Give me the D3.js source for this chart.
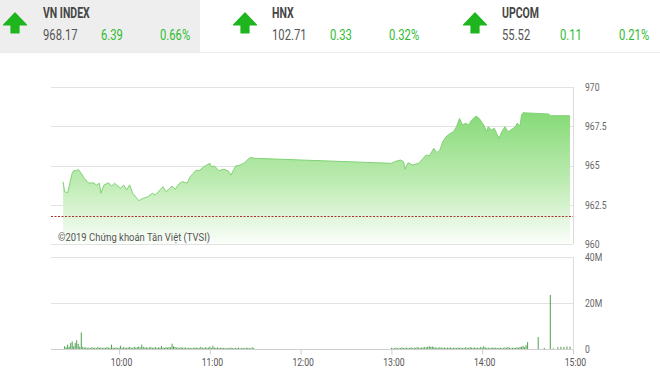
<!DOCTYPE html>
<html>
<head>
<meta charset="utf-8">
<script src="https://cdn.jsdelivr.net/npm/d3@7"></script>
<style>
  body { margin: 0; background: #fff; }
  svg { display: block; font-family: Roboto, "Open Sans", sans-serif; }
</style>
</head>
<body>
<div id="chart"></div>
<script>
// Index summary boxes
const indexNames = ["VN INDEX", "HNX", "UPCOM"];
const indexValues = ["968.17", "102.71", "55.52"];
const indexChanges = ["6.39", "0.33", "0.11"];
const indexPercents = ["0.66%", "0.32%", "0.21%"];

// Intraday VN-Index (time, value)
const priceTimes = [
  "9:23", "9:24", "9:26", "9:29", "9:30", "9:32", "9:33", "9:35", "9:37", "9:40",
  "9:43", "9:45", "9:47", "9:48", "9:50", "9:53", "9:55", "9:57", "10:01", "10:03",
  "10:05", "10:07", "10:09", "10:13", "10:16", "10:19", "10:22", "10:24", "10:27", "10:29",
  "10:31", "10:35", "10:37", "10:40", "10:42", "10:45", "10:47", "10:49", "10:51", "10:53",
  "10:56", "10:58", "11:00", "11:01", "11:03", "11:06", "11:09", "11:12", "11:14", "11:17",
  "11:20", "11:23", "11:25", "11:27", "11:29",
  "13:00", "13:02", "13:06", "13:08", "13:09", "13:11", "13:14", "13:18", "13:21", "13:23",
  "13:25", "13:28", "13:30", "13:32", "13:34", "13:36", "13:39", "13:41", "13:43", "13:45",
  "13:47", "13:49", "13:51", "13:53", "13:56", "13:58", "14:01", "14:03", "14:04", "14:06",
  "14:08", "14:11", "14:13", "14:15", "14:17", "14:19", "14:22", "14:23", "14:25", "14:26",
  "14:27", "14:44", "14:45", "14:58"
];
const priceValues = [
  963.97, 963.33, 963.27, 964.50, 964.67, 964.67, 964.76, 964.50, 964.18, 963.87,
  963.90, 963.76, 963.87, 963.23, 963.76, 963.90, 963.69, 963.87, 963.55, 963.76,
  963.44, 963.76, 963.23, 962.76, 962.91, 963.01, 963.23, 963.12, 963.44, 963.65,
  963.33, 963.69, 963.48, 963.87, 963.97, 963.87, 964.29, 964.50, 964.71, 964.67,
  964.92, 965.03, 965.14, 964.92, 964.97, 964.67, 964.76, 964.67, 964.39, 964.97,
  965.03, 965.18, 965.39, 965.52, 965.46,
  965.14, 965.24, 965.35, 965.24, 964.76, 965.18, 965.03, 965.14, 965.46, 965.67,
  965.61, 966.10, 965.82, 965.99, 966.52, 966.83, 967.05, 967.15, 967.47, 968.00,
  967.58, 967.69, 967.58, 967.90, 968.15, 968.00, 967.58, 967.15, 967.47, 967.26,
  967.37, 966.73, 967.15, 967.47, 967.15, 967.26, 967.47, 967.69, 967.52, 968.22,
  968.36, 968.28, 968.17, 968.17
];
const referencePrice = 961.78;
const priceTicks = [960, 962.5, 965, 967.5, 970];

// Volume per minute (millions of shares)
const volMorningStart = "9:24";
const volMorning = [
  1.2, 0.8, 1.9, 1.0, 2.6, 3.3, 1.2, 2.6, 3.8, 2.2, 1.0, 7.2, 0.9, 0.6, 0.7, 0.5,
  0.6, 0.4, 0.8, 0.5, 0.6, 0.4, 0.9, 0.5, 0.7, 0.4, 0.6, 0.5, 0.8, 0.6, 0.5, 1.9,
  0.6, 0.5, 0.7, 0.4, 0.6, 1.4, 0.5, 0.8, 0.6, 0.5, 0.7, 0.9, 0.6, 0.5, 1.0, 0.6,
  0.8, 1.1, 0.7, 1.9, 0.9, 0.6, 0.8, 0.5, 0.7, 0.9, 0.5, 0.6, 0.8, 0.5, 0.7, 0.6,
  1.3, 0.6, 0.5, 0.8, 0.6, 0.9, 0.7, 2.3, 1.2, 0.9, 0.6, 0.7, 0.5, 0.8, 0.6, 0.5,
  0.7, 0.4, 0.6, 0.5, 0.4, 0.6, 0.5, 0.7, 0.4, 0.5, 0.9, 0.6, 0.4, 0.8, 0.5, 0.6,
  1.0, 0.5, 1.4, 0.6, 0.5, 0.7, 0.4, 0.5, 0.6, 0.4, 0.5, 0.3, 0.5, 0.4, 0.6, 0.4,
  0.3, 0.5, 0.4, 0.6, 0.3, 0.4, 0.5, 0.3, 0.6, 0.4, 0.5, 0.3, 0.7, 0.4
];
const volAfternoonStart = "13:00";
const volAfternoon = [
  0.5, 0.3, 0.4, 0.6, 0.3, 0.5, 0.4, 0.7, 0.4, 0.5, 0.6, 0.4, 0.5, 0.7, 0.4, 0.6,
  0.5, 0.8, 0.6, 0.5, 0.7, 0.6, 0.9, 0.7, 1.0, 1.2, 0.9, 1.1, 0.8, 0.7, 0.6, 0.5,
  0.8, 0.6, 0.5, 0.7, 0.4, 0.6, 0.5, 0.7, 0.4, 0.5, 0.6, 0.4, 0.7, 0.5, 0.6, 0.4,
  0.5, 0.7, 0.6, 0.5, 0.8, 0.6, 0.5, 0.7, 0.5, 0.6, 0.4, 0.9, 0.6, 1.2, 0.7, 0.5,
  0.6, 0.4, 0.5, 0.7, 0.5, 0.6, 0.4, 0.5, 0.6, 0.4, 0.5, 0.7, 0.5, 0.9, 0.6, 0.4,
  0.5, 0.6, 0.5, 0.7, 0.6, 0.9, 1.0, 1.3, 0.8, 1.6, 3.0
];
const volLateTimes = ["14:37", "14:41", "14:45", "14:47", "14:50", "14:52", "14:54", "14:56", "14:58"];
const volLate = [5.2, 0.5, 23.5, 0.3, 0.8, 1.0, 0.9, 1.1, 1.0];
const volTicks = [0, 20, 40];
const volTickLabels = ["0", "20M", "40M"];
const timeTicks = ["10:00", "11:00", "12:00", "13:00", "14:00", "15:00"];

const toMin = s => { const [h, m] = s.split(":").map(Number); return h * 60 + m; };
const fromMin = m => `${Math.floor(m / 60)}:${String(m % 60).padStart(2, "0")}`;

const svg = d3.select("#chart").append("svg")
  .attr("width", 660)
  .attr("height", 376);

// ---------- Header ----------
const boxX = [0, 228, 458];
svg.append("rect").attr("x", 0).attr("y", 0).attr("width", 200).attr("height", 52).attr("fill", "#eeeeee");
svg.append("line").attr("x1", 0).attr("x2", 660).attr("y1", 52.5).attr("y2", 52.5)
  .attr("stroke", "#ececec");

const green = "#2dbb2d";
indexNames.forEach((name, i) => {
  const g = svg.append("g").attr("transform", `translate(${boxX[i]},0)`);
  const ax = [15, 17, 17][i];
  g.append("path")
    .attr("d", `M${ax},13 L${ax + 11.5},25 L${ax + 4},25 L${ax + 4},33 L${ax - 4},33 L${ax - 4},25 L${ax - 11.5},25 Z`)
    .attr("fill", "#1fb51f").attr("stroke", "#1fb51f").attr("stroke-width", 1.2)
    .attr("stroke-linejoin", "round");
  const tx = [43, 44, 44][i];
  g.append("text").attr("transform", `translate(${tx},18) scale(0.75,1)`)
    .attr("font-size", 14).attr("font-weight", "bold").attr("fill", "#454545").text(name);
  g.append("text").attr("transform", `translate(${tx},40) scale(0.75,1)`)
    .attr("font-size", 15).attr("fill", "#555").text(indexValues[i]);
  g.append("text").attr("transform", `translate(${tx + 58},40) scale(0.75,1)`)
    .attr("font-size", 15).attr("fill", green).text(indexChanges[i]);
  g.append("text").attr("transform", `translate(${tx + 117},40) scale(0.75,1)`)
    .attr("font-size", 15).attr("fill", green).text(indexPercents[i]);
});

// ---------- Scales ----------
const left = 51, right = 573;
const x = d3.scaleLinear().domain([toMin("9:15"), toMin("15:00")]).range([left, right]);
const yPrice = d3.scaleLinear().domain([960, 970]).range([244, 87]);
const yVol = d3.scaleLinear().domain([0, 40]).range([349, 257]);

// ---------- Price panel ----------
svg.selectAll(".pgrid").data(priceTicks).enter().append("line")
  .attr("class", "pgrid")
  .attr("x1", left).attr("x2", right)
  .attr("y1", d => Math.round(yPrice(d)) + 0.5).attr("y2", d => Math.round(yPrice(d)) + 0.5)
  .attr("stroke", "#e2e2e2");
svg.append("line").attr("x1", right + 0.5).attr("x2", right + 0.5)
  .attr("y1", yPrice(970)).attr("y2", yPrice(960)).attr("stroke", "#dcdcdc");

const defs = svg.append("defs");
const grad = defs.append("linearGradient").attr("id", "areaGrad")
  .attr("gradientUnits", "userSpaceOnUse")
  .attr("x1", 0).attr("x2", 0).attr("y1", yPrice(968.4)).attr("y2", yPrice(960));
grad.append("stop").attr("offset", 0).attr("stop-color", "#86da77");
grad.append("stop").attr("offset", 0.55).attr("stop-color", "#c0ecb5");
grad.append("stop").attr("offset", 1).attr("stop-color", "#fbfefa");

const pricePts = priceTimes.map((t, i) => ({ t: toMin(t), v: priceValues[i] }));
svg.append("path").datum(pricePts)
  .attr("fill", "url(#areaGrad)")
  .attr("d", d3.area().x(d => x(d.t)).y0(yPrice(960)).y1(d => yPrice(d.v)));
svg.append("path").datum(pricePts)
  .attr("fill", "none").attr("stroke", "#80d276").attr("stroke-width", 1)
  .attr("d", d3.line().x(d => x(d.t)).y(d => yPrice(d.v)));

svg.append("line")
  .attr("x1", left).attr("x2", right)
  .attr("y1", Math.round(yPrice(referencePrice)) + 0.5).attr("y2", Math.round(yPrice(referencePrice)) + 0.5)
  .attr("stroke", "#b0302a").attr("stroke-dasharray", "2,1.5");

svg.append("text")
  .attr("font-size", 11).attr("fill", "#555")
  .attr("transform", "translate(58,241) scale(0.86,1)")
  .text("©2019 Chứng khoán Tân Việt (TVSI)");

// narrow axis text like the original's condensed face
function squeeze(sel, dx) {
  sel.attr("font-size", 10.5).attr("font-family", "Roboto, sans-serif")
    .each(function () {
      const t = d3.select(this);
      const ox = +t.attr("x") || 0;
      t.attr("x", null).attr("transform", `translate(${ox + dx},0) scale(0.82,1)`);
    });
}

const pAxis = svg.append("g").attr("transform", `translate(${right},0)`)
  .call(d3.axisRight(yPrice).tickValues(priceTicks).tickSize(0).tickPadding(12).tickFormat(d => d));
pAxis.select(".domain").remove();
pAxis.selectAll("text").attr("fill", "#666").call(squeeze, 0);

// ---------- Volume panel ----------
svg.selectAll(".vgrid").data(volTicks).enter().append("line")
  .attr("class", "vgrid")
  .attr("x1", left).attr("x2", right)
  .attr("y1", d => Math.round(yVol(d)) + 0.5).attr("y2", d => Math.round(yVol(d)) + 0.5)
  .attr("stroke", d => d === 0 ? "#cfcfcf" : "#e2e2e2");
svg.append("line").attr("x1", right + 0.5).attr("x2", right + 0.5)
  .attr("y1", yVol(40)).attr("y2", yVol(0)).attr("stroke", "#dcdcdc");

const volData = []
  .concat(volMorning.map((v, i) => ({ t: toMin(volMorningStart) + i, v })))
  .concat(volAfternoon.map((v, i) => ({ t: toMin(volAfternoonStart) + i, v })))
  .concat(volLateTimes.map((t, i) => ({ t: toMin(t), v: volLate[i] })));

svg.selectAll(".vbar").data(volData).enter().append("rect")
  .attr("class", "vbar")
  .attr("x", d => x(d.t) - 0.5)
  .attr("width", 1)
  .attr("y", d => yVol(d.v))
  .attr("height", d => yVol(0) - yVol(d.v))
  .attr("fill", "#4f9f4f");

const vAxis = svg.append("g").attr("transform", `translate(${right},0)`)
  .call(d3.axisRight(yVol).tickValues(volTicks).tickSize(0).tickPadding(12)
    .tickFormat((d, i) => volTickLabels[i]));
vAxis.select(".domain").remove();
vAxis.selectAll("text").attr("fill", "#666").call(squeeze, 0);

const tAxis = svg.append("g").attr("transform", `translate(0,${Math.round(yVol(0)) + 0.5})`)
  .call(d3.axisBottom(x).tickValues(timeTicks.map(toMin)).tickSize(5).tickPadding(4)
    .tickFormat(d => fromMin(d)));
tAxis.select(".domain").remove();
tAxis.selectAll(".tick line").attr("stroke", "#cccccc");
tAxis.selectAll("text").attr("fill", "#555").call(squeeze, 2);
</script>
</body>
</html>
